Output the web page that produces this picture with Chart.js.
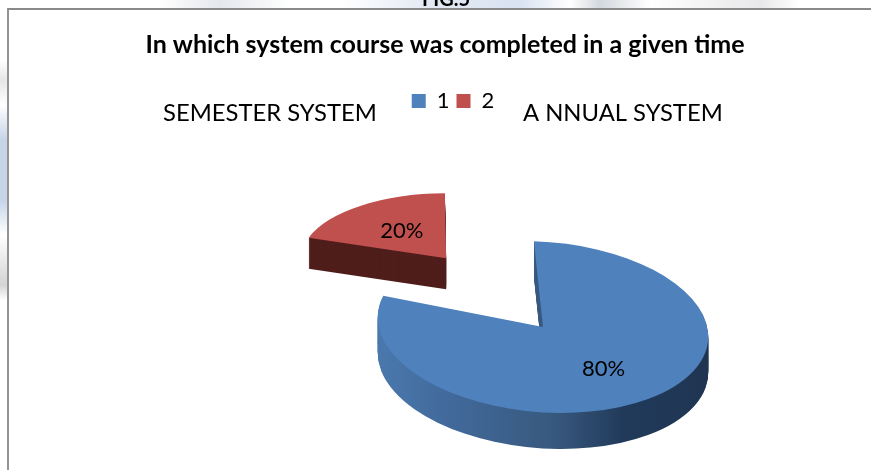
<!DOCTYPE html>
<html>
<head>
<meta charset="utf-8">
<title>Fig 5</title>
<script src="https://cdn.jsdelivr.net/npm/chart.js@4"></script>
<style>
  html, body { margin: 0; height: 100%; overflow: hidden; }
  body {
    background:
      linear-gradient(90deg, #fff 160px, #e4e7ec 220px, #fff 290px, #fff 340px, #e3e9f3 430px, #d9e3f1 520px, #fff 570px, #d3d7de 600px, #fff 650px, #e8e8ea 760px, #fff 800px) top / 100% 8px no-repeat,
      linear-gradient(180deg, #fff 60px, #e6e6e6 80px, #fff 105px, #c6d4e8 140px, #c6d4e8 200px, #fff 235px, #d4d4d4 285px, #fff 300px) left / 7px 100% no-repeat,
      #fff;
  }
  #frame {
    position: absolute; left: 7px; top: 8px; width: 900px; height: 500px;
    background: #fff; border-left: 2px solid #939393; border-top: 2px solid #8a8a8a;
  }
  #grafik { position: absolute; left: 0; top: 0; }
</style>
</head>
<body>
<div id="frame"></div>
<canvas id="grafik" width="871" height="470"></canvas>
<script>
// data
const categories = ['1', '2'];
const shares = [80, 20];
const sliceColors = ['#4f81bd', '#c0504d'];
const wallColors = [null, '#4f1e1b'];
const sideNotes = ['SEMESTER SYSTEM', 'A NNUAL SYSTEM'];

const fontName = 'Lato, "Noto Sans", sans-serif';

// the 3D look: each slice gets its own tilt, the far one is smaller
const poses = [
  { a: 1, b: 0.03, c: 0.055, d: 0.52, lift: 0, depth: 36, labelAt: 0.58 },
  { a: 0.83, b: 0, c: 0, d: 0.372, lift: -9, depth: 31, labelAt: 0.55 }
];

function pasangPose(ctx, arc, pose, turun) {
  ctx.translate(arc.x, arc.y + pose.lift + turun);
  ctx.transform(pose.a, pose.b, pose.c, pose.d, 0, 0);
  ctx.translate(-arc.x, -arc.y);
}

function lukisArc(ctx, arc, warna) {
  const asli = arc.options;
  arc.options = Object.assign({}, asli, { backgroundColor: warna });
  arc.draw(ctx);
  arc.options = asli;
}

function gradienDinding(ctx, arc) {
  const r = arc.outerRadius;
  const g = ctx.createLinearGradient(arc.x - r, 0, arc.x + r, 0);
  g.addColorStop(0, '#4a78ad');
  g.addColorStop(0.2, '#41699a');
  g.addColorStop(0.5, '#38597f');
  g.addColorStop(0.72, '#213a5a');
  g.addColorStop(1, '#1f3552');
  return g;
}

const pie3d = {
  id: 'pie3d',
  afterLayout(chart) {
    // where the blue pie sits, the boxes above it do not matter
    Object.assign(chart.chartArea, { left: 378, right: 708, top: 240, bottom: 414, width: 330, height: 174 });
  },
  beforeDraw(chart) {
    const title = chart.titleBlock;
    const tw = title.right - title.left;
    title.left = 445 - tw / 2;
    title.right = 445 + tw / 2;
    const th = title.bottom - title.top;
    title.top = 30;
    title.bottom = 30 + th;

    const legend = chart.legend;
    const lw = legend.right - legend.left;
    legend.left = 453 - lw / 2;
    legend.right = 453 + lw / 2;
    const lh = legend.bottom - legend.top;
    legend.top = 83;
    legend.bottom = 83 + lh;
  },
  beforeDatasetDraw(chart, args) {
    const ctx = chart.ctx;
    const arcs = args.meta.data;
    // far slice first so the near one stays on top
    [1, 0].forEach(i => {
      const arc = arcs[i];
      const pose = poses[i];
      const dinding = wallColors[i] || gradienDinding(ctx, arc);
      for (let d = pose.depth; d >= 1; d--) {
        ctx.save();
        pasangPose(ctx, arc, pose, d);
        lukisArc(ctx, arc, dinding);
        ctx.restore();
      }
      ctx.save();
      pasangPose(ctx, arc, pose, 0);
      arc.draw(ctx);
      ctx.restore();
    });
    return false;
  },
  afterDatasetsDraw(chart) {
    const ctx = chart.ctx;
    const arcs = chart.getDatasetMeta(0).data;
    const total = shares.reduce((a, b) => a + b, 0);
    ctx.save();
    ctx.fillStyle = '#000';
    ctx.textAlign = 'center';
    ctx.textBaseline = 'middle';
    ctx.font = '22px ' + fontName;
    arcs.forEach((arc, i) => {
      const pose = poses[i];
      const tengah = (arc.startAngle + arc.endAngle) / 2;
      const jauh = (arc.options.offset || 0) / 4 + arc.outerRadius * pose.labelAt;
      ctx.save();
      pasangPose(ctx, arc, pose, 0);
      const p = ctx.getTransform().transformPoint({
        x: arc.x + Math.cos(tengah) * jauh,
        y: arc.y + Math.sin(tengah) * jauh
      });
      ctx.restore();
      ctx.fillText(Math.round(shares[i] / total * 100) + '%', p.x, p.y);
    });
    ctx.font = '23.8px ' + fontName;
    ctx.textAlign = 'left';
    ctx.fillText(sideNotes[0], 163, 113);
    ctx.fillText(sideNotes[1], 523, 113);
    ctx.font = 'bold 20px ' + fontName;
    ctx.textBaseline = 'alphabetic';
    ctx.fillText('FIG.5', 422, 6);
    ctx.restore();
  }
};

new Chart(document.getElementById('grafik'), {
  type: 'pie',
  data: {
    labels: categories,
    datasets: [{
      data: shares,
      backgroundColor: sliceColors,
      borderWidth: 0,
      offset: [0, 794],
      radius: 165
    }]
  },
  options: {
    responsive: false,
    animation: false,
    rotation: 0,
    cutout: '0%',
    plugins: {
      title: {
        display: true,
        text: 'In which system course was completed in a given time',
        color: '#000',
        padding: 0,
        font: { family: fontName, size: 25, weight: 'bold' }
      },
      legend: {
        display: true,
        position: 'top',
        labels: {
          boxWidth: 14,
          boxHeight: 14,
          padding: 7,
          color: '#000',
          font: { family: fontName, size: 22 }
        }
      },
      tooltip: { enabled: false }
    }
  },
  plugins: [pie3d]
});
</script>
</body>
</html>
